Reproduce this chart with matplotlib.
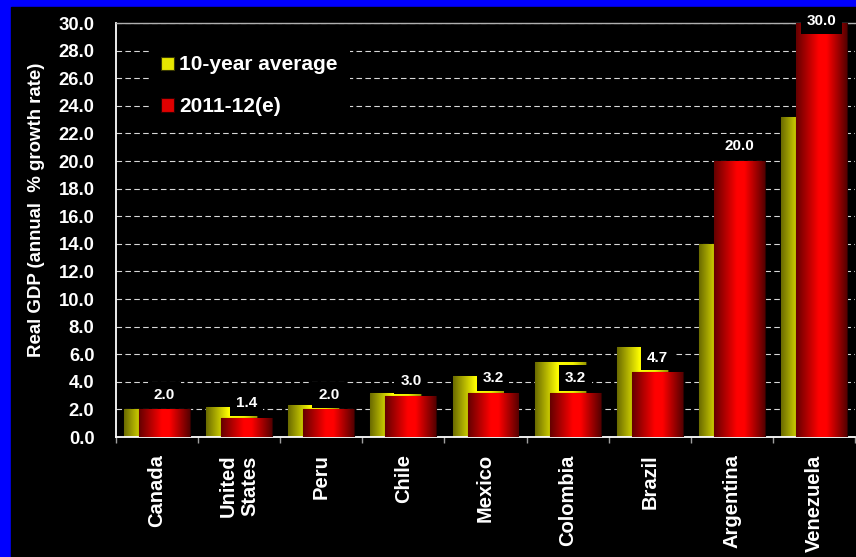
"""
Real GDP growth in the Americas: 10-year average vs 2011-12 estimate.

Grouped bar chart on a black slide background with a blue frame.
Bars are shaded with a horizontal gradient to give a cylinder look.

Output:
  out.png
"""

import numpy as np

import matplotlib
matplotlib.use("Agg")
import matplotlib.pyplot as plt
from matplotlib.colors import LinearSegmentedColormap
from matplotlib.patches import Rectangle

# ── Data ──────────────────────────────────────────────────────────────────────
COUNTRIES = ["Canada", "United\nStates", "Peru", "Chile", "Mexico",
             "Colombia", "Brazil", "Argentina", "Venezuela"]
AVG_10Y   = [2.0, 2.2, 2.3, 3.2, 4.4, 5.4, 6.5, 14.0, 23.2]
EST_2011  = [2.0, 1.4, 2.0, 3.0, 3.2, 3.2, 4.7, 20.0, 30.0]
Y_TICKS   = np.arange(0, 31, 2)

SERIES_LABELS = ["10-year average", "2011-12(e)"]
YLABEL = "Real GDP (annual  % growth rate)"

# ── Style ─────────────────────────────────────────────────────────────────────
FONT = ["Liberation Sans", "DejaVu Sans"]
W_PX, H_PX, DPI = 856, 557, 100

YELLOW_CMAP = LinearSegmentedColormap.from_list(
    "cyl_yellow", [(0.0, "#6a6a00"), (0.45, "#ffff00"),
                   (0.75, "#f2f200"), (1.0, "#9a9a00")])
RED_CMAP = LinearSegmentedColormap.from_list(
    "cyl_red", [(0.0, "#640000"), (0.45, "#ff0000"),
                (0.6, "#ff0000"), (1.0, "#560000")])

BAR_W  = 0.62
OFFSET = 0.091

plt.rcParams["font.family"] = FONT
plt.rcParams["font.weight"] = "bold"


def shade_bars(ax, bars, cmap, z):
    """Overlay a left-to-right gradient on each bar, clipped to its shape."""
    grad = np.linspace(0, 1, 256).reshape(1, -1)
    for p in bars:
        x0, y0 = p.get_x(), p.get_y()
        w, h = p.get_width(), p.get_height()
        im = ax.imshow(grad, cmap=cmap, aspect="auto", interpolation="bilinear",
                       extent=(x0, x0 + w, y0, y0 + h), zorder=z)
        im.set_clip_path(p)


def main():
    fig = plt.figure(figsize=(W_PX / DPI, H_PX / DPI), dpi=DPI,
                     facecolor="#0000ff")
    # black slide area inside the blue frame
    fig.add_artist(Rectangle((11 / W_PX, 0), 1, (H_PX - 7) / H_PX,
                             transform=fig.transFigure, color="black",
                             zorder=0))

    ax = fig.add_axes([116 / W_PX, (H_PX - 437) / H_PX,
                       (855 - 116) / W_PX, (437 - 23) / H_PX])
    ax.set_facecolor("black")

    x = np.arange(len(COUNTRIES))

    b_avg = ax.bar(x - OFFSET, AVG_10Y, BAR_W, color="#e6e600",
                   edgecolor="#3a3a00", linewidth=0.8, zorder=2,
                   label=SERIES_LABELS[0])
    shade_bars(ax, b_avg, YELLOW_CMAP, 2.1)

    b_est = ax.bar(x + OFFSET, EST_2011, BAR_W, color="#e00000",
                   edgecolor="#300000", linewidth=0.8, zorder=3,
                   label=SERIES_LABELS[1])
    shade_bars(ax, b_est, RED_CMAP, 3.1)

    ax.set_xlim(-0.5, len(COUNTRIES) - 0.5)
    ax.set_ylim(0, 30)

    # value labels on the 2011-12 bars, kept inside the top of the frame
    for xi, v in zip(x, EST_2011):
        ax.text(xi + OFFSET, min(v + 1.06, 30.15), f"{v:.1f}",
                ha="center", va="center", color="white", fontsize=11,
                fontweight="bold", zorder=6, clip_on=False,
                bbox=dict(boxstyle="square,pad=0.38", fc="black", ec="none"))

    # grid
    ax.set_axisbelow(True)
    ax.yaxis.grid(True, color="#d8d8d8", linewidth=0.8,
                  linestyle=(0, (5, 3)))
    ax.xaxis.grid(False)

    # axes
    ax.set_yticks(Y_TICKS)
    ax.set_yticklabels([f"{t:.1f}" for t in Y_TICKS])
    ax.tick_params(axis="y", length=0, pad=15.5, labelsize=13.3,
                   labelcolor="white")

    ax.set_xticks(x)
    ax.set_xticklabels(COUNTRIES, rotation=90, fontsize=14.5,
                       fontweight="bold", color="white")
    ax.tick_params(axis="x", which="major", length=0, pad=12.5)
    ax.set_xticks(np.arange(-0.5, len(COUNTRIES), 1.0), minor=True)
    ax.tick_params(axis="x", which="minor", length=4.3, width=1,
                   color="#a0a0a0", direction="out")

    ax.set_ylabel(YLABEL, fontsize=13.4, fontweight="bold", color="white",
                  va="center")
    ax.yaxis.set_label_coords((37 - 116) / 739, (437 - 210) / 414)

    for side in ("left", "bottom"):
        ax.spines[side].set_color("white")
        ax.spines[side].set_linewidth(1.3)
    ax.spines["top"].set_color("#b0b0b0")
    ax.spines["top"].set_linewidth(1.0)
    ax.spines["right"].set_visible(False)

    leg = ax.legend(loc="upper left",
                    bbox_to_anchor=((149 - 116) / 739, (437 - 43) / 414),
                    frameon=True, facecolor="black", edgecolor="none",
                    framealpha=1, fontsize=15, handlelength=0.6,
                    handleheight=0.6, handletextpad=0.25, labelspacing=1.1,
                    borderpad=0.6, borderaxespad=0, fancybox=False)
    for t in leg.get_texts():
        t.set_color("white")
        t.set_fontweight("bold")
    leg.set_zorder(7)

    fig.savefig("out.png", dpi=DPI, facecolor=fig.get_facecolor())
    plt.close(fig)


if __name__ == "__main__":
    main()
